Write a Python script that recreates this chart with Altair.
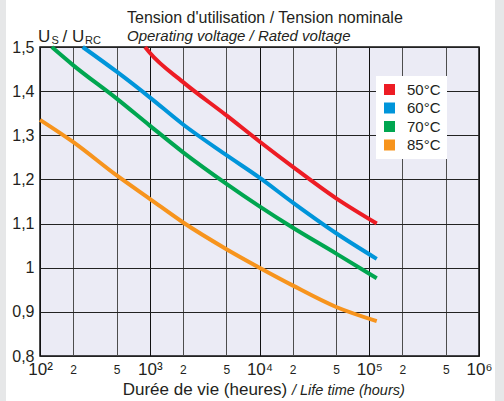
import altair as alt
import pandas as pd

# Operating voltage / rated voltage vs. life time, one curve per temperature
temps = ["50°C", "60°C", "70°C", "85°C"]
colors = ["#ed1c24", "#0095da", "#00a650", "#f7941d"]

hours_50 = [906, 1000, 2000, 5000, 10000, 20000, 50000, 117000]
ratio_50 = [1.500, 1.487, 1.421, 1.345, 1.286, 1.229, 1.157, 1.100]

hours_60 = [245, 500, 1000, 2000, 5000, 10000, 20000, 50000, 117000]
ratio_60 = [1.500, 1.444, 1.386, 1.325, 1.255, 1.204, 1.148, 1.078, 1.020]

hours_70 = [128, 200, 500, 1000, 2000, 5000, 10000, 20000, 50000, 117000]
ratio_70 = [1.500, 1.459, 1.383, 1.322, 1.262, 1.190, 1.139, 1.091, 1.032, 0.976]

hours_85 = [100, 200, 500, 1000, 2000, 5000, 10000, 20000, 50000, 117000]
ratio_85 = [1.335, 1.285, 1.209, 1.156, 1.103, 1.042, 1.000, 0.960, 0.911, 0.879]

x_ticks = [100, 200, 500, 1000, 2000, 5000, 10000, 20000, 50000,
           100000, 200000, 500000, 1000000]
y_ticks = [0.8, 0.9, 1.0, 1.1, 1.2, 1.3, 1.4, 1.5]

FONT = "Liberation Sans"
INK = "#231f20"

series = [(temps[0], hours_50, ratio_50), (temps[1], hours_60, ratio_60),
          (temps[2], hours_70, ratio_70), (temps[3], hours_85, ratio_85)]
df = pd.concat(
    [pd.DataFrame({"temp": t, "hours": h, "ratio": r}) for t, h, r in series],
    ignore_index=True,
)

DECADE = "indexof([100, 1000, 10000, 100000, 1000000], datum.value) >= 0"
x_label_expr = (
    "datum.value == 100 ? '10²' : datum.value == 1000 ? '10³' : "
    "datum.value == 10000 ? '10⁴' : datum.value == 100000 ? '10⁵' : "
    "datum.value == 1000000 ? '10⁶' : "
    "'' + round(datum.value / pow(10, floor(log(datum.value) / LN10 + 1e-6)))"
)

x_axis = alt.Axis(
    values=x_ticks, labelExpr=x_label_expr, title=None, domain=False,
    ticks=False, tickSize=0, labelPadding=13, labelBaseline="middle",
    labelFont=FONT, labelColor=INK, labelFlush=False, labelOverlap=False,
    labelFontSize={"condition": {"test": DECADE, "value": 17}, "value": 12},
    gridColor={"condition": {"test": DECADE, "value": "#111111"}, "value": "#4d4d4d"},
    gridWidth=1, gridOpacity=1,
)
y_axis = alt.Axis(
    values=y_ticks, labelExpr="replace(format(datum.value, '.1~f'), '.', ',')",
    title=None, domain=False, ticks=False, tickSize=0, labelPadding=6,
    labelFont=FONT, labelFontSize=16, labelColor=INK, labelBaseline="middle",
    gridColor="#222222", gridWidth=1, gridOpacity=1,
)

x_enc = alt.X("hours:Q", scale=alt.Scale(type="log", domain=[100, 1000000], nice=False), axis=x_axis)
y_enc = alt.Y("ratio:Q", scale=alt.Scale(domain=[0.8, 1.5], zero=False, nice=False), axis=y_axis)
color_scale = alt.Scale(domain=temps, range=colors)

lines = alt.Chart(df).mark_line(
    strokeWidth=4, interpolate="monotone", strokeCap="butt"
).encode(
    x=x_enc, y=y_enc,
    color=alt.Color("temp:N", scale=color_scale, legend=None),
    detail="temp:N",
)

# zero-size filled squares: they carry the legend with solid square swatches
swatches = alt.Chart(df).mark_square(size=0, filled=True, opacity=1).encode(
    x=x_enc, y=y_enc,
    color=alt.Color(
        "temp:N", scale=color_scale,
        legend=alt.Legend(
            title=None, orient="none", legendX=336, legendY=29,
            fillColor="white", padding=6, rowPadding=2.5,
            symbolType="square", symbolSize=121, symbolStrokeWidth=0,
            symbolOpacity=1,
            labelFont=FONT, labelFontSize=15, labelColor=INK, labelOffset=10,
        ),
    ),
)


def caption(text, x, y, size, style="normal", font=FONT):
    return alt.Chart(alt.Data(values=[{}])).mark_text(
        text=text, align="left", baseline="alphabetic", font=font,
        fontSize=size, fontStyle=style, color=INK,
    ).encode(x=alt.value(x), y=alt.value(y))


def strip(x0, x1):
    return alt.Chart(alt.Data(values=[{}])).mark_rect(color="#e6e7e8").encode(
        x=alt.value(x0), x2=alt.value(x1), y=alt.value(-47), y2=alt.value(354)
    )


texts = [
    caption("Tension d'utilisation / Tension nominale", 87, -24.5, 16),
    caption("Operating voltage / Rated voltage", 87, -6.5, 15, "italic"),
    caption("U", -2, -5.5, 17),
    caption("S", 11.5, -3, 11),
    caption("/", 22.5, -5.5, 17),
    caption("U", 32, -5.5, 17),
    caption("RC", 45, -3, 11),
    caption("Durée de vie (heures)", 82.7, 347.5, 17),
    caption("/ Life time (hours)", 252, 347.5, 14.5, "italic"),
]

chart = alt.layer(
    strip(-40, -34), strip(455, 464), lines, swatches, *texts
).resolve_legend(
    color="independent"
).properties(
    width=439, height=309,
    padding={"left": 40, "top": 47, "right": 25, "bottom": 45},
    autosize=alt.AutoSizeParams(type="none"),
).configure(
    background="white",
).configure_view(
    fill="#ebebf5", stroke="#111111", strokeWidth=1.5,
)

chart.save("out.html", embed_options={"renderer": "svg", "actions": False})
